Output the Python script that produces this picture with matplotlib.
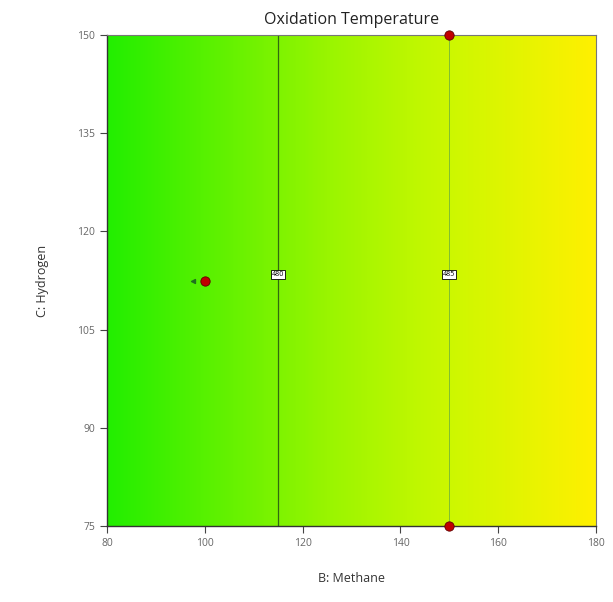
import numpy as np
import matplotlib
matplotlib.use("Agg")
import matplotlib.pyplot as plt
from matplotlib.colors import LinearSegmentedColormap

plt.rcParams["font.family"] = ["Open Sans", "DejaVu Sans"]

# Response profile along methane (constant in hydrogen)
methane = [80, 100, 115, 120, 140, 150, 160, 180]
temperature = [475.0, 477.9, 480.0, 480.7, 483.6, 485.0, 486.4, 489.3]
hydrogen_range = [75, 150]
contour_levels = [480, 485]
contour_label_h = 113.4

# Design points
design_b = [150, 150, 100]
design_c = [150, 75, 112.5]

x_ticks = [80, 100, 120, 140, 160, 180]
y_ticks = [75, 90, 105, 120, 135, 150]

cmap = LinearSegmentedColormap.from_list(
    "gy", [(0.0, "#22ee00"), (0.45, "#99f500"), (0.7, "#ccf800"), (1.0, "#fff000")])

fig = plt.figure(figsize=(6.13, 6.02), dpi=100)
ax = fig.add_axes([0.1746, 0.1262, 0.7977, 0.8157])

bx = np.linspace(methane[0], methane[-1], 400)
hy = np.linspace(hydrogen_range[0], hydrogen_range[1], 50)
T = np.interp(bx, methane, temperature)
Z = np.tile(T, (len(hy), 1))
ax.imshow(Z, extent=[methane[0], methane[-1], hydrogen_range[0], hydrogen_range[1]],
          origin="lower", aspect="auto", cmap=cmap, interpolation="bilinear")

cs_colors = ["#2f6a10", "#7fbf30"]
ax.contour(bx, hy, Z, levels=contour_levels, colors=cs_colors, linewidths=[0.9, 0.7])
for lev in contour_levels:
    xb = np.interp(lev, temperature, methane)
    ax.text(xb, contour_label_h, f"{lev:g}", fontsize=5, ha="center", va="center",
            bbox=dict(boxstyle="square,pad=0.15", fc="white", ec="black", lw=0.6), zorder=5)

ax.scatter(design_b, design_c, s=45, c="#c00000", edgecolors="#600000",
           linewidths=0.6, zorder=6, clip_on=False)
ax.scatter([design_b[2] - 2.4], [design_c[2]], marker="<", s=8, c="#207020", zorder=6)

ax.set_xlim(methane[0], methane[-1])
ax.set_ylim(hydrogen_range[0], hydrogen_range[1])
ax.set_xticks(x_ticks)
ax.set_yticks(y_ticks)
ax.tick_params(axis="both", labelsize=7.5, labelcolor="#666666", color="#444444",
               length=5, width=0.8, direction="out")
for side in ["left", "bottom"]:
    ax.spines[side].set_color("#333333")
    ax.spines[side].set_linewidth(1.0)
for side in ["top", "right"]:
    ax.spines[side].set_color("#777777")
    ax.spines[side].set_linewidth(0.8)

ax.set_title("Oxidation Temperature", fontsize=11.5, color="#222222", pad=8)
ax.set_xlabel("B: Methane", fontsize=9, color="#333333", labelpad=17)
ax.set_ylabel("C: Hydrogen", fontsize=9, color="#333333", labelpad=20)

fig.savefig("out.png", dpi=100)
